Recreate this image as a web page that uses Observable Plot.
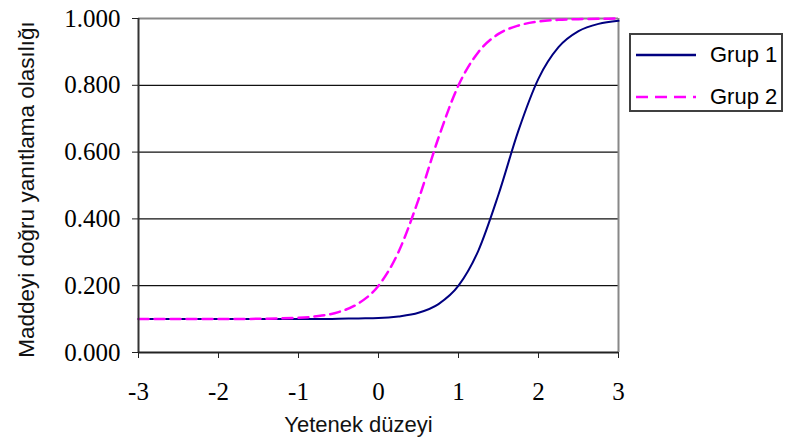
<!DOCTYPE html>
<html><head><meta charset="utf-8">
<script src="https://cdn.jsdelivr.net/npm/d3@7"></script>
<script src="https://cdn.jsdelivr.net/npm/@observablehq/plot@0.6"></script>
<style>
body{margin:0;background:#fff;}
#wrap{position:relative;width:787px;height:448px;}
#legend{position:absolute;left:629px;top:33px;width:154px;height:79px;border:2px solid #404040;box-sizing:border-box;font-family:"Liberation Sans",Arial,sans-serif;font-size:22px;color:#000;background:#fff;}
.row{position:absolute;left:5px;height:22px;display:flex;align-items:center;}
.row span{margin-left:14px;line-height:22px;}
</style>
</head><body>
<div id="wrap"></div>
<script>
const xValues = [-3,-2.5,-2,-1.5,-1,-0.75,-0.5,-0.25,0,0.25,0.5,0.75,1,1.25,1.5,1.75,2,2.25,2.5,2.75,3];
const grup1 = [0.100,0.100,0.100,0.100,0.100,0.100,0.101,0.102,0.103,0.108,0.119,0.145,0.200,0.306,0.473,0.665,0.820,0.914,0.962,0.984,0.993];
const grup2 = [0.100,0.100,0.100,0.101,0.104,0.109,0.121,0.147,0.200,0.301,0.458,0.643,0.800,0.900,0.954,0.979,0.991,0.996,0.998,0.999,1.000];
const seriesNames = ["Grup 1","Grup 2"];
const seriesColors = ["#000080","#ff00ff"];
const xTicks = [-3,-2,-1,0,1,2,3];
const yTicks = [0,0.2,0.4,0.6,0.8,1.0];
const xLabel = "Yetenek düzeyi";
const yLabel = "Maddeyi doğru yanıtlama olasılığı";

const d1 = xValues.map((x,i)=>({x, y: grup1[i]}));
const d2 = xValues.map((x,i)=>({x, y: grup2[i]}));
const serif = "'Liberation Serif', 'Times New Roman', serif";
const sans = "'Liberation Sans', Arial, sans-serif";

const chart = Plot.plot({
  width: 787, height: 448,
  marginLeft: 138, marginRight: 169, marginTop: 18, marginBottom: 96,
  x: {domain: [-3, 3]},
  y: {domain: [0, 1]},
  style: {fontFamily: serif, fontSize: "25px", background: "white", color: "black"},
  marks: [
    Plot.ruleY(yTicks.slice(1, -1), {stroke: "#111", strokeWidth: 1.3}),
    Plot.ruleY([1], {stroke: "#888", strokeWidth: 2}),
    Plot.ruleX([3], {stroke: "#888", strokeWidth: 2}),
    Plot.line(d1, {x: "x", y: "y", stroke: seriesColors[0], strokeWidth: 2, curve: "monotone-x"}),
    Plot.line(d2, {x: "x", y: "y", stroke: seriesColors[1], strokeWidth: 2.5, strokeDasharray: "10,6", curve: "monotone-x"}),
    Plot.ruleX([-3], {stroke: "#333", strokeWidth: 2}),
    Plot.ruleY([0], {stroke: "#222", strokeWidth: 2}),
    Plot.axisX({ticks: xTicks, tickSize: 6, tickPadding: 24, label: null, tickFormat: d => String(d), stroke: "#222", fontSize: 25, fontFamily: serif}),
    Plot.axisY({ticks: yTicks, tickSize: 6, tickPadding: 12, label: null, tickFormat: d3.format(".3f"), stroke: "#222", fontSize: 25, fontFamily: serif}),
    Plot.text([yLabel], {frameAnchor: "left", dx: -112, dy: 4, rotate: -90, textAnchor: "middle", fontFamily: sans, fontSize: 22.5, fill: "#111"}),
    Plot.text([xLabel], {frameAnchor: "bottom", dx: -20, dy: 79, textAnchor: "middle", fontFamily: sans, fontSize: 22, fill: "#111"})
  ]
});
const wrap = document.getElementById("wrap");
wrap.appendChild(chart);

const legend = document.createElement("div");
legend.id = "legend";
const rowsTop = [9, 51];
seriesNames.forEach((name, i) => {
  const row = document.createElement("div");
  row.className = "row";
  row.style.top = rowsTop[i] + "px";
  const dash = i === 1 ? 'stroke-dasharray="12,7"' : '';
  row.innerHTML = `<svg width="60" height="6"><line x1="0" y1="3" x2="60" y2="3" stroke="${seriesColors[i]}" stroke-width="2.6" ${dash}/></svg><span>${name}</span>`;
  legend.appendChild(row);
});
wrap.appendChild(legend);
</script>
</body></html>
